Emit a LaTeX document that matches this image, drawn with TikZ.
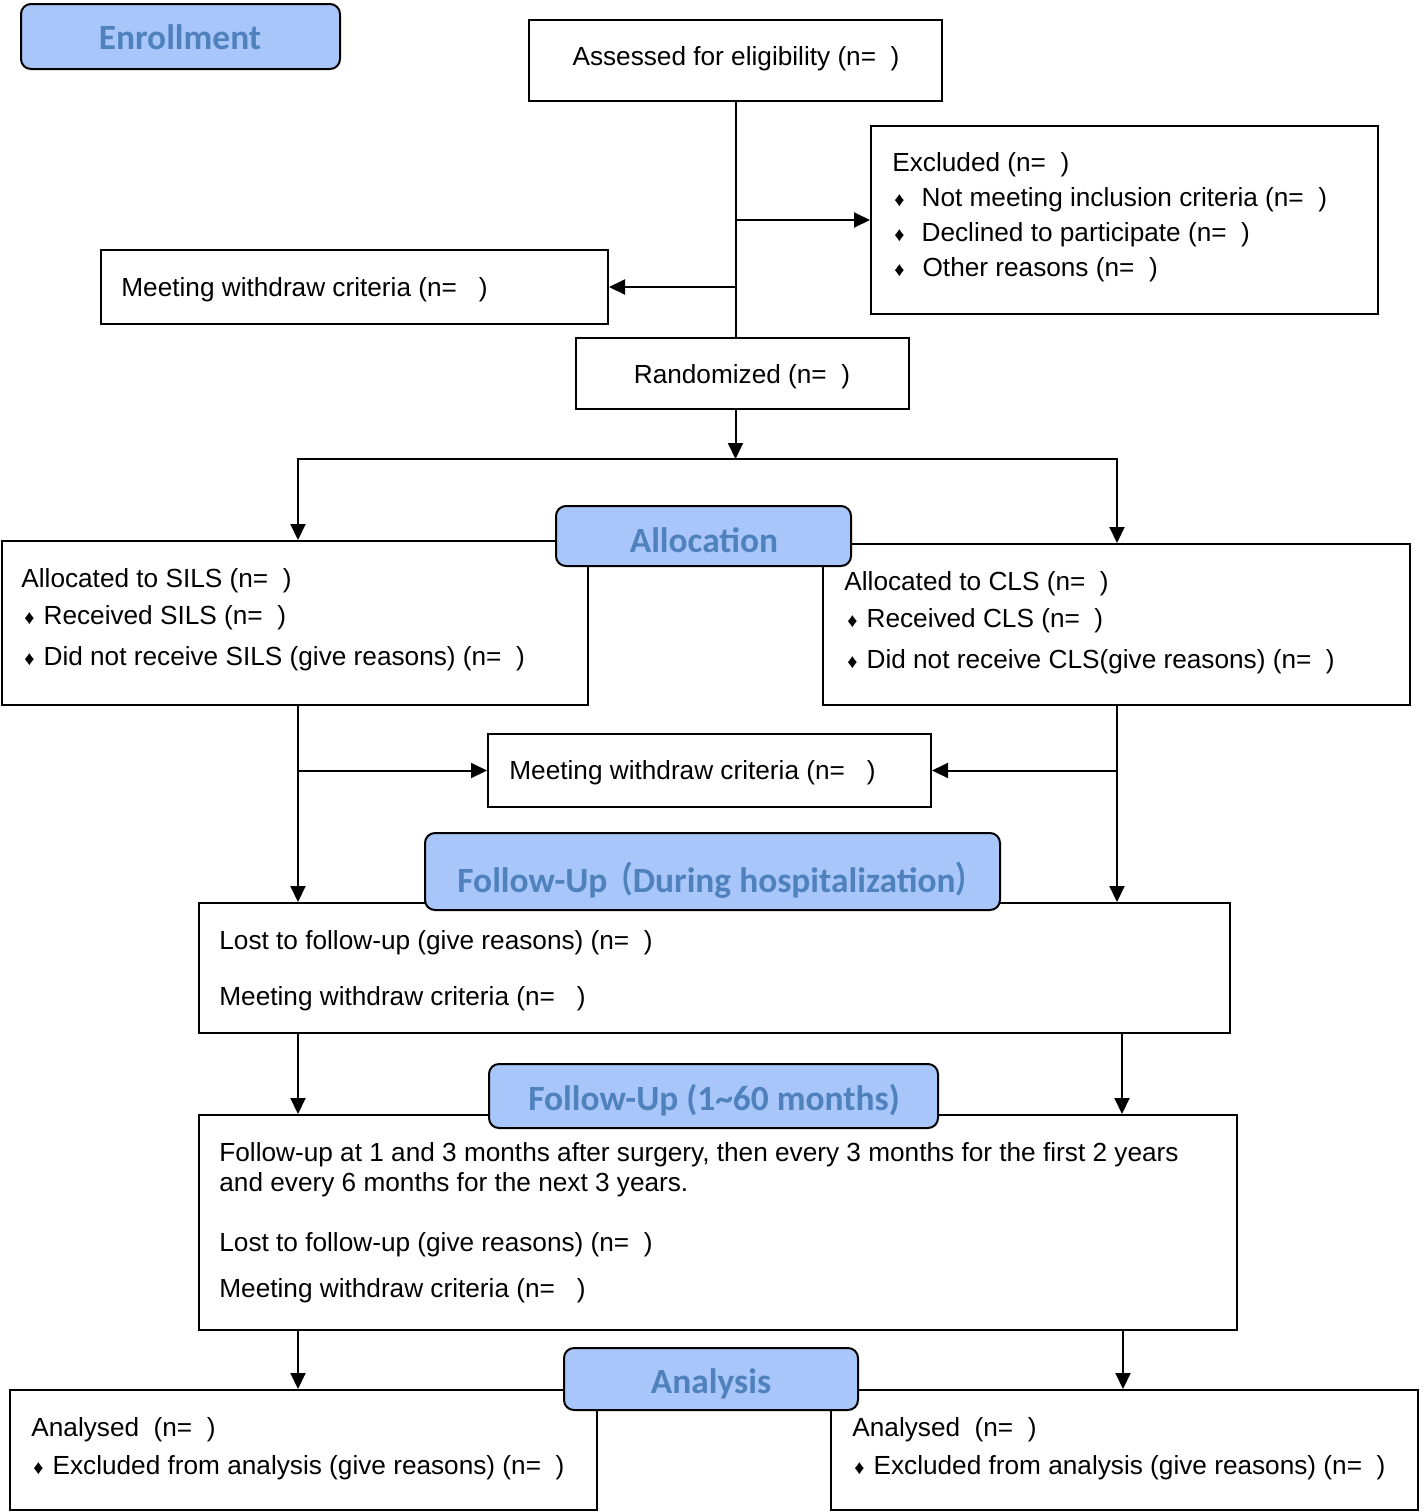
\documentclass[tikz,border=0pt]{standalone}
\usepackage{fontspec}
\usepackage{graphicx}
\setmainfont{Liberation Sans}
\newfontfamily\hfont{Carlito}
\newfontfamily\cjk{Noto Sans CJK SC}
\usetikzlibrary{fit,arrows.meta}
\definecolor{hfill}{RGB}{168,198,250}
\definecolor{htext}{RGB}{79,129,189}
\newcommand\bul{{\fontsize{10}{10}\selectfont\char"2666}}
\newcommand\bl[1]{\bul\hspace{#1}}
\begin{document}
\begin{tikzpicture}[x=0.5pt,y=-0.5pt,
  box/.style={draw, line width=1pt, inner sep=0pt, fill=white},
  hbox/.style={draw, line width=1pt, inner sep=0pt, fill=hfill, rounded corners=5pt},
  txt/.style={anchor=west, inner sep=0pt, yshift=-1.25pt, font=\fontsize{13.1}{16}\selectfont},
  ctxt/.style={inner sep=0pt, yshift=-1.25pt, font=\fontsize{13.1}{16}\selectfont},
  htxt/.style={inner sep=0pt, text=htext, font=\hfont\bfseries\fontsize{17.7}{20}\selectfont},
  line/.style={line width=1pt},
  arr/.style={line width=1pt, -{Triangle[length=8pt,width=7.5pt]}}]
\useasboundingbox (0,0) rectangle (1424,1512);
% boxes
\node[box, fit={(529,20)(942,101)}] (assess) {};
\node[box, fit={(871,126)(1378,314)}] (excl) {};
\node[box, fit={(101,250)(608,324)}] (wd1) {};
\node[box, fit={(576,338)(909,409)}] (rand) {};
\node[box, fit={(2,541)(588,705)}] (allocL) {};
\node[box, fit={(823,544)(1410,705)}] (allocR) {};
\node[box, fit={(488,734)(931,807)}] (wd2) {};
\node[box, fit={(199,903)(1230,1033)}] (lost1) {};
\node[box, fit={(199,1115)(1237,1330)}] (fu2) {};
\node[box, fit={(10,1390)(597,1510)}] (anL) {};
\node[box, fit={(831,1390)(1418,1510)}] (anR) {};
% texts
\node[ctxt] (tAssess) at (736,56) {Assessed for eligibility (n=~~)};
\node[txt] (tEx0) at (892,162) {Excluded (n=~~)};
\node[txt] (tEx1) at (894,197) {\bl{8.5pt}Not meeting inclusion criteria (n=~~)};
\node[txt] (tEx2) at (894,232) {\bl{8.5pt}Declined to participate (n=~~)};
\node[txt] (tEx3) at (894,267) {\bl{9pt}Other reasons (n=~~)};
\node[txt] (tWd1) at (121,287) {Meeting withdraw criteria (n=~~~)};
\node[ctxt] (tRand) at (742,374) {Randomized (n=~~)};
\node[txt] (tAL0) at (21,578) {Allocated to SILS (n=~~)};
\node[txt] (tAL1) at (24,615) {\bl{4.5pt}Received SILS (n=~~)};
\node[txt] (tAL2) at (24,656) {\bl{4.5pt}Did not receive SILS (give reasons) (n=~~)};
\node[txt] (tAR0) at (844,581) {Allocated to CLS (n=~~)};
\node[txt] (tAR1) at (847,618) {\bl{4.5pt}Received CLS (n=~~)};
\node[txt] (tAR2) at (847,659) {\bl{4.5pt}Did not receive CLS(give reasons) (n=~~)};
\node[txt] (tWd2) at (509,770) {Meeting withdraw criteria (n=~~~)};
\node[txt] (tL1a) at (219,940) {Lost to follow-up (give reasons) (n=~~)};
\node[txt] (tL1b) at (219,996) {Meeting withdraw criteria (n=~~~)};
\node[txt] (tF2a) at (219,1152) {Follow-up at 1 and 3 months after surgery, then every 3 months for the first 2 years};
\node[txt] (tF2b) at (219,1182) {and every 6 months for the next 3 years.};
\node[txt] (tF2c) at (219,1242) {Lost to follow-up (give reasons) (n=~~)};
\node[txt] (tF2d) at (219,1288) {Meeting withdraw criteria (n=~~~)};
\node[txt] (tAnL0) at (31,1427) {Analysed~~(n=~~)};
\node[txt] (tAnL1) at (33,1465) {\bl{4.5pt}Excluded from analysis (give reasons) (n=~~)};
\node[txt] (tAnR0) at (852,1427) {Analysed~~(n=~~)};
\node[txt] (tAnR1) at (854,1465) {\bl{4.5pt}Excluded from analysis (give reasons) (n=~~)};
% connectors
\coordinate (split) at (735.5,459);
\coordinate (sL) at (298,459);
\coordinate (sR) at (1117,459);
\coordinate (cR2) at (1122,0);
\coordinate (cR3) at (1123,0);
\draw[line] (assess.south) -- (assess.south |- rand.north);
\draw[arr] (assess.south |- excl.west) -- (excl.west);
\draw[arr] (assess.south |- wd1.east) -- (wd1.east);
\draw[arr] (assess.south |- rand.south) -- (split);
\draw[arr] (split) -| (sL |- allocL.north);
\draw[arr] (split) -| (sR |- allocR.north);
\draw[arr] (sL |- allocL.south) -- (sL |- lost1.north);
\draw[arr] (sL |- wd2.west) -- (wd2.west);
\draw[arr] (sR |- allocR.south) -- (sR |- lost1.north);
\draw[arr] (sR |- wd2.east) -- (wd2.east);
\draw[arr] (sL |- lost1.south) -- (sL |- fu2.north);
\draw[arr] (cR2 |- lost1.south) -- (cR2 |- fu2.north);
\draw[arr] (sL |- fu2.south) -- (sL |- anL.north);
\draw[arr] (cR3 |- fu2.south) -- (cR3 |- anR.north);
% headers
\node[hbox, fit={(21,4)(340,69)}] (hEnr) {};
\node[htxt] (tEnr) at (180,37) {Enrollment};
\node[hbox, fit={(556,506)(851,566)}] (hAlloc) {};
\node[htxt] (tAlloc) at (704,540) {Allocation};
\node[hbox, fit={(425,833)(1000,910)}] (hFU1) {};
\node[htxt, anchor=west] (tFU1) at (457,880) {Follow-Up\scalebox{0.72}[1]{\cjk （}During hospitalization\scalebox{0.72}[1]{\cjk ）}};
\node[hbox, fit={(489,1064)(938,1128)}] (hFU2) {};
\node[htxt] (tFU2) at (714,1100) {Follow-Up (1\textasciitilde 60 months)};
\node[hbox, fit={(564,1348)(858,1410)}] (hAn) {};
\node[htxt] (tAn) at (711,1384) {Analysis};
\end{tikzpicture}
\end{document}
